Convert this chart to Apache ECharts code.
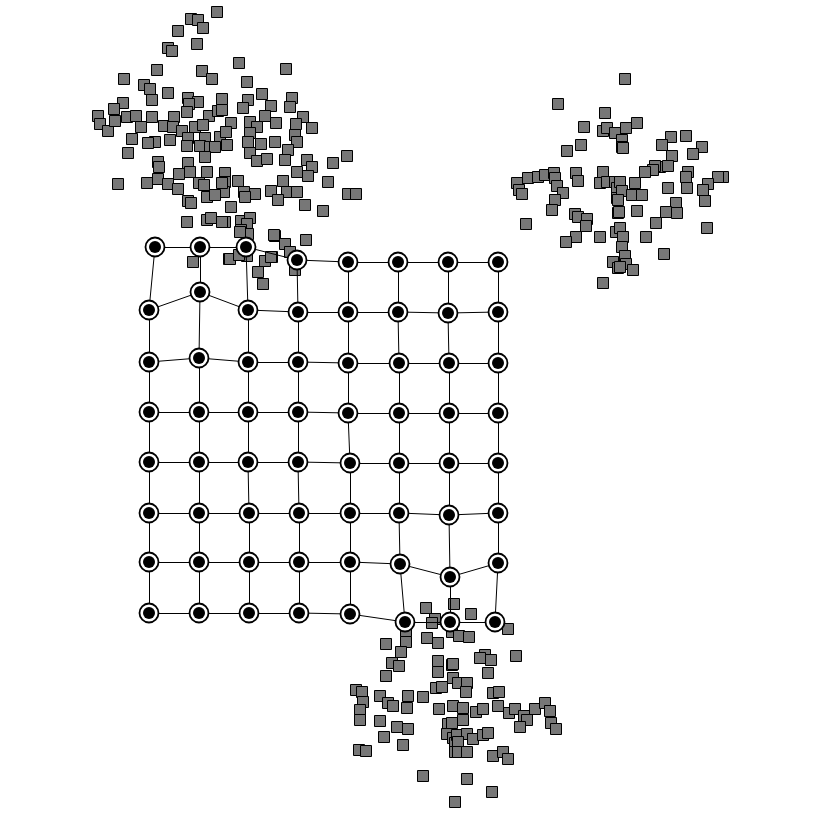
<!DOCTYPE html>
<html>
<head>
<meta charset="utf-8">
<script src="https://cdn.jsdelivr.net/npm/echarts@6/dist/echarts.min.js"></script>
<style>html,body{margin:0;padding:0;background:#fff}#c{width:826px;height:826px}</style>
</head>
<body>
<div id="c"></div>
<script>
// SOM node positions, 8 rows x 8 columns, [x, y]
const nodeRows = [
  [[155,247],[200,247],[246,247],[297,260],[348,262],[398,262],[448,262],[498,262]],
  [[149,310],[200,292],[248,310],[298,312],[348,312],[398,312],[448,313],[498,312]],
  [[149,362],[199,358],[248,362],[298,362],[348,363],[399,363],[449,363],[498,363]],
  [[149,412],[199,412],[248,412],[298,412],[348,413],[399,413],[449,413],[498,413]],
  [[149,462],[199,462],[248,462],[298,462],[350,463],[399,463],[449,463],[498,463]],
  [[149,513],[199,513],[249,513],[299,513],[350,513],[399,513],[449,515],[498,513]],
  [[149,562],[199,562],[249,562],[299,562],[350,562],[400,564],[450,577],[498,563]],
  [[149,613],[199,613],[249,613],[299,613],[350,614],[405,622],[450,622],[495,622]]
];

// data points, three clusters
const clusterTopLeft = [
  [217,12],[191,19],[198,20],[203,28],[178,31],[168,48],[172,51],[197,44],
  [157,70],[202,71],[212,79],[239,63],[286,69],[124,79],[144,85],[150,89],[168,93],[152,100],[247,82],
  [188,98],[198,102],[189,104],[222,99],
  [123,103],[114,109],[98,116],[100,124],[108,131],[115,121],[127,117],[136,116],[152,117],[141,127],
  [164,126],[174,117],[173,127],[182,131],[187,112],[195,127],[209,116],[203,125],[218,111],[220,137],
  [205,138],[188,138],[170,140],[155,142],[132,139],[148,143],
  [248,100],[243,108],[262,94],[271,106],[292,98],[290,107],[303,117],[312,128],[265,116],[231,123],
  [226,132],[250,122],[257,127],[276,123],[296,124],[295,135],[222,110],[250,133],[261,144],[275,142],
  [297,142],[248,142],[227,145],
  [288,150],[250,153],[257,161],[267,159],[285,160],[307,160],[312,167],[308,176],[333,163],[347,156],
  [297,172],[283,181],[271,191],[287,192],[278,200],[297,192],[305,205],[328,182],[348,194],[356,194],
  [323,211],[225,173],[238,181],[225,182],[224,192],[244,192],[255,194],[245,197],[231,207],[225,222],
  [241,221],[250,218],[247,224],[241,230],[248,234],[275,236],[285,244],[306,240],[290,252],[272,257],
  [265,261],[229,259],[258,272],[295,270],[263,284],[247,256],
  [187,146],[200,146],[210,147],[215,147],
  [128,153],[158,162],[159,167],[118,184],[147,183],[158,179],[168,184],[178,189],[179,174],[188,163],
  [190,172],[188,201],[191,203],[205,157],[207,172],[199,183],[204,185],[207,197],[215,195],[222,183],
  [187,222],[207,220],[211,218],[222,222],[193,262],[230,259],[239,255],[240,232],[274,235],[271,257]
];
const clusterTopRight = [
  [625,79],[558,104],[605,113],[584,127],[603,131],[607,128],[615,133],[622,140],[567,151],[581,145],
  [622,147],[517,183],[519,190],[522,194],[528,178],[538,177],[545,175],[554,173],[555,178],[557,186],
  [563,193],[555,200],[552,210],[576,173],[578,181],[603,172],[600,183],[607,182],[615,182],[617,188],
  [617,198],[575,214],[578,217],[587,219],[586,226],[576,237],[566,242],[526,224],[600,237],[616,232],
  [618,213],[613,262],[618,268],[603,283],
  [637,123],[626,128],[623,148],[671,137],[686,136],[662,145],[702,147],[693,154],[672,156],[660,167],
  [668,166],[655,166],[653,170],[645,172],[688,172],[686,177],[723,177],[718,177],[708,184],[703,190],
  [705,201],[687,188],[668,188],[676,203],[677,213],[666,212],[656,223],[646,237],[707,228],[664,254],
  [620,182],[635,183],[622,191],[632,195],[642,195],[618,200],[619,212],[637,211],[620,228],[623,237],
  [622,247],[625,256],[626,264],[633,270],[620,267]
];
const clusterBottom = [
  [426,608],[454,604],[435,619],[432,623],[406,631],[406,642],[386,644],[427,638],[438,643],[452,632],
  [401,652],[392,663],[399,666],[386,676],[438,661],[438,672],[452,665],[453,678],[436,688],[442,687],
  [356,690],[362,692],[363,702],[360,710],[360,720],[380,696],[388,703],[393,706],[408,696],[407,708],
  [423,697],[380,721],[384,737],[397,727],[408,729],[403,745],[359,750],[366,751],[439,709],[453,706],
  [448,724],[447,734],[453,738],[455,743],[455,752],[423,776],[455,802],
  [471,614],[508,629],[459,636],[469,637],[485,655],[480,658],[491,660],[516,656],[488,673],[453,664],
  [458,683],[467,683],[466,692],[493,693],[499,692],[498,706],[509,713],[515,709],[524,716],[527,720],
  [520,727],[535,709],[545,703],[550,711],[551,723],[556,729],[463,708],[476,712],[483,709],[463,720],
  [452,723],[457,735],[467,734],[473,739],[483,735],[488,733],[458,742],[458,752],[467,752],[493,756],
  [503,752],[508,759],[467,779],[492,792]
];

const nodes = nodeRows.flat();
const edges = [];
for (let r = 0; r < nodeRows.length; r++) {
  for (let c = 0; c < nodeRows[r].length; c++) {
    if (c + 1 < nodeRows[r].length) edges.push({coords: [nodeRows[r][c], nodeRows[r][c + 1]]});
    if (r + 1 < nodeRows.length) edges.push({coords: [nodeRows[r][c], nodeRows[r + 1][c]]});
  }
}
const points = clusterTopLeft.concat(clusterTopRight, clusterBottom);

const chart = echarts.init(document.getElementById('c'), null, {renderer: 'canvas'});
chart.setOption({
  animation: false,
  backgroundColor: '#ffffff',
  grid: {left: 0, right: 0, top: 0, bottom: 0},
  xAxis: {type: 'value', min: 0, max: 826, show: false},
  yAxis: {type: 'value', min: 0, max: 826, inverse: true, show: false},
  series: [
    {
      type: 'scatter', data: points, symbol: 'rect', symbolSize: 11,
      itemStyle: {color: '#777777', borderColor: '#000', borderWidth: 1, opacity: 1},
      z: 1
    },
    {
      type: 'lines', coordinateSystem: 'cartesian2d', data: edges,
      lineStyle: {color: '#000', width: 1, opacity: 1}, z: 2
    },
    {
      type: 'scatter', data: nodes, symbol: 'circle', symbolSize: 19,
      itemStyle: {color: '#fff', borderColor: '#000', borderWidth: 1.8, opacity: 1}, z: 3
    },
    {
      type: 'scatter', data: nodes, symbol: 'circle', symbolSize: 12,
      itemStyle: {color: '#000', opacity: 1}, z: 4
    }
  ]
});
</script>
</body>
</html>
